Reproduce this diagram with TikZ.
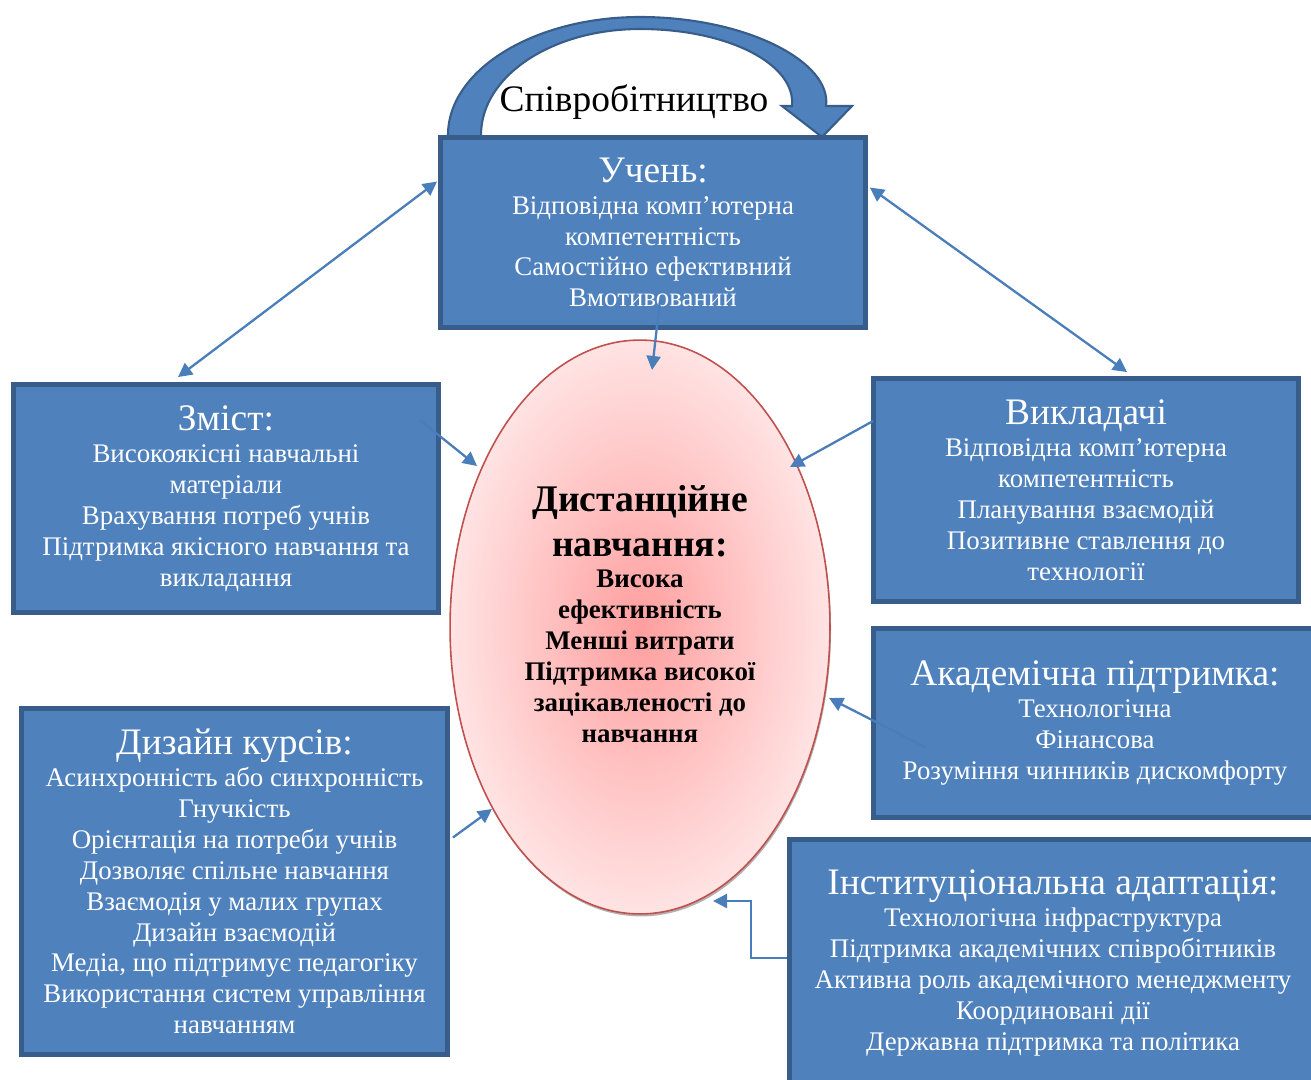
\documentclass[tikz,border=0pt]{standalone}
\usepackage{fontspec}
\setmainfont{Liberation Serif}
\usetikzlibrary{arrows.meta,calc,shapes.geometric,shadows}

\definecolor{boxfill}{HTML}{4F81BD}
\definecolor{boxline}{HTML}{385D8A}
\definecolor{linkblue}{HTML}{4A7EBB}
\definecolor{ovalline}{HTML}{C0504D}
\definecolor{pinkin}{HTML}{FF9E9E}
\definecolor{pinkmid}{HTML}{FFC0C0}
\definecolor{pinkout}{HTML}{FFE3E3}
\pgfdeclareradialshading{pinkglow}{\pgfpoint{0bp}{0bp}}{color(0bp)=(pinkin); color(12bp)=(pinkmid); color(25bp)=(pinkout); color(50bp)=(pinkout)}

\newcommand{\hdfont}{\fontsize{21.3}{24}\selectfont}
\newcommand{\bdfont}{\fontsize{15.3}{17.6}\selectfont}
\newcommand{\cfont}{\fontsize{21.4}{25}\selectfont}

\begin{document}
\begin{tikzpicture}[x=0.02cm, y=-0.02cm,
	factor/.style={rectangle, draw=boxline, fill=boxfill, line width=2.8pt, text=white, align=center, inner sep=0pt, font=\bdfont},
	link/.style={draw=linkblue, line width=1.3pt, -{Triangle[length=8pt,width=8pt]}},
	twolink/.style={draw=linkblue, line width=1.3pt, {Triangle[length=8pt,width=8pt]}-{Triangle[length=8pt,width=8pt]}}]

	\useasboundingbox (0,0) rectangle (1311,1079);
	\clip (0,0) rectangle (1311,1079);

	\filldraw[fill=boxfill, draw=boxline, line width=1.2pt] (448,140) -- (448,135) .. controls (448,70) and (534,17) .. (640,17) .. controls (746,17) and (832,62) .. (826,106) -- (852,106) -- (822,137) -- (782,106) -- (792,106) .. controls (796,64) and (728,29) .. (640,29) .. controls (552,29) and (481,76) .. (481,135) -- (481,140) -- cycle;
	\node[font=\hdfont] (collab) at (634,102) {Співробітництво};

	\node[factor, minimum width=8.5cm, minimum height=3.8cm] (uchen) at (653,232.5) {{\hdfont Учень:}\\[0.5pt] Відповідна комп’ютерна\\ компетентність\\ Самостійно ефективний\\ Вмотивований};
	\node[factor, minimum width=8.5cm, minimum height=4.56cm] (zmist) at (226,498.5) {{\hdfont Зміст:}\\[0.5pt] Високоякісні навчальні\\ матеріали\\ Врахування потреб учнів\\ Підтримка якісного навчання та\\ викладання};
	\node[factor, minimum width=8.5cm, minimum height=4.46cm] (vykl) at (1086,490) {{\hdfont Викладачі}\\[0.5pt] Відповідна комп’ютерна\\ компетентність\\ Планування взаємодій\\ Позитивне ставлення до\\ технології};
	\node[factor, minimum width=8.86cm, minimum height=3.78cm] (akad) at (1095,723) {{\hdfont Академічна підтримка:}\\[0.5pt] Технологічна\\ Фінансова\\ Розуміння чинників дискомфорту};
	\node[factor, minimum width=10.54cm, minimum height=4.94cm] (inst) at (1053,963) {{\hdfont Інституціональна адаптація:}\\[0.5pt] Технологічна інфраструктура\\ Підтримка академічних співробітників\\ Активна роль академічного менеджменту\\ Координовані дії\\ Державна підтримка та політика};
	\node[factor, minimum width=8.52cm, minimum height=6.92cm] (dyzain) at (234.5,881.5) {{\hdfont Дизайн курсів:}\\[0.5pt] Асинхронність або синхронність\\ Гнучкість\\ Орієнтація на потреби учнів\\ Дозволяє спільне навчання\\ Взаємодія у малих групах\\ Дизайн взаємодій\\ Медіа, що підтримує педагогіку\\ Використання систем управління\\ навчанням};

	\node[ellipse, draw=ovalline, line width=0.9pt, shading=pinkglow, minimum width=7.6cm, minimum height=11.48cm, inner sep=0pt, drop shadow={shadow xshift=0.6pt, shadow yshift=-1.4pt, fill=black, opacity=0.3}] (centre) at (640,627) {};
	\node[align=center, font=\bfseries\bdfont] (centretext) at (640,614) {{\cfont Дистанційне}\\[7.9pt] {\cfont навчання:}\\[0pt] Висока\\ ефективність\\ Менші витрати\\ Підтримка високої\\ зацікавленості до\\ навчання};

	\coordinate (tipU) at (652,370);
	\coordinate (tipZ) at (477,466);
	\coordinate (tipV) at (790,467);
	\coordinate (tipA) at (829,698);
	\coordinate (tipD) at (492,809);
	\coordinate (tipI) at (713,901);

	\draw[twolink] ($(zmist.north)+(-48,-5)$) -- ($(uchen.west)+(-1,-51)$);
	\draw[twolink] ($(uchen.east)+(2,-45)$) -- ($(vykl.north)+(41,-4)$);
	\draw[link] ($(uchen.south)+(7,-30)$) -- (tipU);
	\draw[link] ($(zmist.north east)+(-21,38)$) -- (tipZ);
	\draw[link] ($(vykl.west)+(2,-69)$) -- (tipV);
	\draw[link] ($(akad.west)+(54,24)$) -- (tipA);
	\draw[link] ($(dyzain.east)+(3,-44)$) -- (tipD);
	\draw[link] ($(inst.west)+(0,-5)$) -- ++(-36,0) |- (tipI);

\end{tikzpicture}
\end{document}
